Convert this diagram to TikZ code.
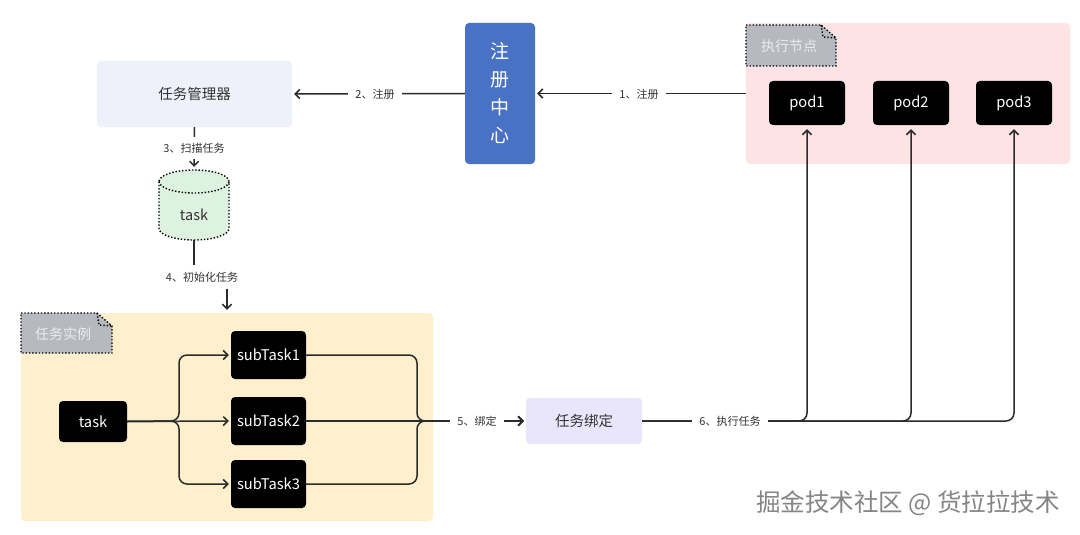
\documentclass[tikz,border=0pt]{standalone}
\usepackage{fontspec}
\setmainfont{Noto Sans CJK SC}
\usetikzlibrary{arrows.meta}
\definecolor{mgrfill}{HTML}{EEF1FA}
\definecolor{regfill}{HTML}{4A72C4}
\definecolor{pinkfill}{HTML}{FDE3E3}
\definecolor{yellowfill}{HTML}{FEF0CC}
\definecolor{greenfill}{HTML}{DDF2DF}
\definecolor{bindfill}{HTML}{E9E5FA}
\definecolor{tabfill}{HTML}{B6BAC0}
\definecolor{linecol}{HTML}{2B2B2B}
\definecolor{txt}{HTML}{333333}
\definecolor{wmcol}{HTML}{858585}
\begin{document}
\begin{tikzpicture}[x=1pt,y=-1pt,
  lightbox/.style={rounded corners=4pt, inner sep=0pt, font=\fontsize{14.5}{16}\selectfont, text=txt},
  blackbox/.style={fill=black, rounded corners=4pt, text=white, font=\fontsize{14.7}{16}\selectfont, inner sep=0pt},
  zone/.style={rounded corners=4pt, inner sep=0pt},
  conn/.style={draw=linecol, line width=1.5pt, -{Straight Barb[length=4.5pt,width=9pt]}, shorten >=2pt, rounded corners=8pt},
  elabel/.style={fill=white, text=txt, font=\fontsize{11}{13}\selectfont, inner xsep=7pt, inner ysep=3pt},
  dotborder/.style={draw=black, line width=1.4pt, dash pattern=on 1.4pt off 1.9pt},
  tabtext/.style={text=white!92!black, font=\fontsize{14}{16}\selectfont}
]
\fill[white] (0,0) rectangle (1080,535);
\useasboundingbox (0,0) rectangle (1080,535);

% zones
\node[zone, fill=pinkfill, minimum width=324pt, minimum height=141pt] (execzone) at (908,93.5) {};
\node[zone, fill=yellowfill, minimum width=412pt, minimum height=208pt] (inst) at (227,417) {};

% tabs
\draw[dotborder, fill=tabfill] (746,25) -- (821,25) -- (836,38) -- (836,66) -- (746,66) -- cycle;
\draw[dotborder] (821,25) -- (823,37) -- (836,38);
\node[tabtext] (exectab) at (789,46) {执行节点};
\draw[dotborder, fill=tabfill] (21,313) -- (97,313) -- (112,326) -- (112,353) -- (21,353) -- cycle;
\draw[dotborder] (97,313) -- (99,325) -- (112,326);
\node[tabtext] (insttab) at (63,334) {任务实例};

% main boxes
\node[lightbox, fill=mgrfill, minimum width=195pt, minimum height=66pt] (mgr) at (194.5,94) {任务管理器};
\node[zone, fill=regfill, minimum width=70pt, minimum height=141pt, text=white, align=center, font=\fontsize{19}{28}\selectfont] (reg) at (500,93.5) {注\\册\\中\\心};
\node[lightbox, fill=bindfill, minimum width=116pt, minimum height=46pt] (bind) at (584,421) {任务绑定};

% pods
\node[blackbox, minimum width=76pt, minimum height=44pt] (pod1) at (807,103) {pod1};
\node[blackbox, minimum width=76pt, minimum height=44pt] (pod2) at (911,103) {pod2};
\node[blackbox, minimum width=76pt, minimum height=44pt] (pod3) at (1014,103) {pod3};

% task database (cylinder)
\path[fill=greenfill, dotborder] (159,181.5) -- (159,228.5)
  arc[start angle=180, end angle=360, x radius=35pt, y radius=11.5pt]
  -- (229,181.5)
  arc[start angle=0, end angle=180, x radius=35pt, y radius=11.5pt] -- cycle;
\draw[dotborder] (159,181.5) arc[start angle=180, end angle=360, x radius=35pt, y radius=11.5pt];
\node[minimum width=70pt, minimum height=70pt, inner sep=0pt] (db) at (194,205) {};
\node[text=txt, font=\fontsize{14.5}{16}\selectfont] (dbtext) at (194,215) {task};

% task and subtasks
\node[blackbox, minimum width=68pt, minimum height=41pt] (task) at (93,421.5) {task};
\node[blackbox, minimum width=75pt, minimum height=48pt] (sub1) at (268.5,355) {subTask1};
\node[blackbox, minimum width=75pt, minimum height=48pt] (sub2) at (268.5,421) {subTask2};
\node[blackbox, minimum width=75pt, minimum height=48pt] (sub3) at (268.5,484) {subTask3};
\coordinate (fanout) at (179,421);
\coordinate (fanin) at (417,421);

% connectors
\draw[conn] (execzone.west) -- (reg.east);
\node[elabel] (l1) at (639,94) {1、注册};
\draw[conn] (reg.west) -- (mgr.east);
\node[elabel] (l2) at (375,94) {2、注册};
\draw[conn, shorten >=3pt] (mgr.south) -- (db.north);
\node[elabel, inner ysep=6pt] (l3) at (194,148) {3、扫描任务};
\draw[conn, rounded corners=0pt, shorten >=3pt] (db.south) -- (194,277) -| (inst.north);
\node[elabel, inner ysep=7pt] (l4) at (202,277) {4、初始化任务};

\draw[conn] (task.east) -- (fanout) |- (sub1.west);
\draw[conn] (task.east) -- (sub2.west);
\draw[conn] (task.east) -- (fanout) |- (sub3.west);

\draw[conn] (sub1.east) -| (fanin) -- (bind.west);
\draw[conn] (sub2.east) -- (bind.west);
\draw[conn] (sub3.east) -| (fanin) -- (bind.west);
\node[elabel] (l5) at (477,421) {5、绑定};

\draw[conn, shorten >=4pt] (bind.east) -| (pod1.south);
\draw[conn, shorten >=4pt] (bind.east) -| (pod2.south);
\draw[conn, shorten >=4pt] (bind.east) -| (pod3.south);
\node[elabel] (l6) at (730,421) {6、执行任务};

% watermark
\node[text=wmcol, font=\fontsize{24.5}{28}\selectfont] (wm) at (908,503) {掘金技术社区 @ 货拉拉技术};
\end{tikzpicture}
\end{document}
